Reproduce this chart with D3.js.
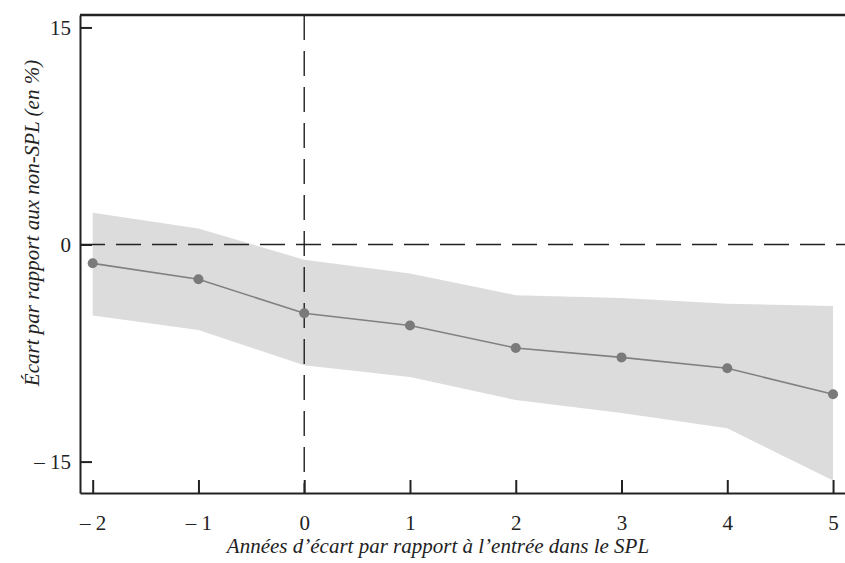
<!DOCTYPE html>
<html>
<head>
<meta charset="utf-8">
<script src="https://cdn.jsdelivr.net/npm/d3@7"></script>
</head>
<body style="margin:0; background:#fff;">
<div id="chart"></div>
<script>
// Years relative to entry, point estimates and confidence band
var years = [-2, -1, 0, 1, 2, 3, 4, 5];
var estimate = [-1.3, -2.4, -4.75, -5.6, -7.15, -7.8, -8.55, -10.35];
var upperBound = [2.2, 1.1, -1.05, -2.0, -3.5, -3.7, -4.1, -4.25];
var lowerBound = [-4.9, -5.9, -8.35, -9.15, -10.75, -11.65, -12.7, -16.3];
var yTicks = [-15, 0, 15];
var xTitle = "Années d’écart par rapport à l’entrée dans le SPL";
var yTitle = "Écart par rapport aux non-SPL (en %)";

var tickStyle = "font-family:'Liberation Serif';font-size:21px;fill:#222";
var titleStyle = "font-family:'Liberation Serif';font-size:21px;font-style:italic;fill:#222";

var width = 845, height = 563;
var margin = {top: 15, right: 0, bottom: 70, left: 80};
var innerW = width - margin.left - margin.right,
	innerH = height - margin.top - margin.bottom;

var svg = d3.select("#chart")
	.append("svg")
	.attr("width", width)
	.attr("height", height)
	.style("display", "block");

var g = svg.append("g")
	.attr("transform", "translate(" + margin.left + "," + margin.top + ")");

var x = d3.scaleLinear()
	.domain([-2.12, 5.113])
	.range([0, innerW]);

var y = d3.scaleLinear()
	.domain([-17.17, 15.86])
	.range([innerH, 0]);

//Minus sign with a space like the original
function fmt(d) {
	return d < 0 ? "\u2013 " + Math.abs(d) : "" + d;
}

var rows = years.map(function(d, i) {
	return {year: d, est: estimate[i], lo: lowerBound[i], hi: upperBound[i]};
});

//Confidence band
var area = d3.area()
	.x(function(d) { return x(d.year); })
	.y0(function(d) { return y(d.lo); })
	.y1(function(d) { return y(d.hi); });

g.append("path")
	.datum(rows)
	.attr("fill", "#dcdcdc")
	.attr("d", area);

//Dashed reference lines
g.append("line")
	.attr("x1", 0).attr("x2", innerW)
	.attr("y1", y(0)).attr("y2", y(0))
	.attr("stroke", "#222")
	.attr("stroke-width", 1.4)
	.attr("stroke-dasharray", "25,11");

g.append("line")
	.attr("x1", x(0)).attr("x2", x(0))
	.attr("y1", 0).attr("y2", innerH)
	.attr("stroke", "#222")
	.attr("stroke-width", 1.4)
	.attr("stroke-dasharray", "25,11");

//Estimate line and dots
var line = d3.line()
	.x(function(d) { return x(d.year); })
	.y(function(d) { return y(d.est); });

g.append("path")
	.datum(rows)
	.attr("fill", "none")
	.attr("stroke", "#808080")
	.attr("stroke-width", 1.6)
	.attr("d", line);

g.selectAll(".dot")
	.data(rows)
	.enter()
	.append("circle")
	.attr("class", "dot")
	.attr("cx", function(d) { return x(d.year); })
	.attr("cy", function(d) { return y(d.est); })
	.attr("r", 5)
	.attr("fill", "#7a7a7a");

//Axes with inward ticks
var xAxis = g.append("g")
	.attr("transform", "translate(0," + innerH + ")")
	.call(d3.axisBottom(x).tickValues(years).tickSizeInner(-13).tickSizeOuter(0).tickFormat(fmt).tickPadding(22));

var yAxis = g.append("g")
	.call(d3.axisLeft(y).tickValues(yTicks).tickSizeInner(-12).tickSizeOuter(0).tickFormat(fmt).tickPadding(9));

[xAxis, yAxis].forEach(function(ax) {
	ax.attr("font-family", null).attr("font-size", null);
	ax.selectAll(".domain").attr("stroke", "#222").attr("stroke-width", 2);
	ax.selectAll(".tick line").attr("stroke", "#222").attr("stroke-width", 2);
	ax.selectAll(".tick text").attr("fill", null).attr("style", tickStyle);
});

//Top frame line
g.append("line")
	.attr("x1", 0).attr("x2", innerW)
	.attr("y1", 0).attr("y2", 0)
	.attr("stroke", "#222")
	.attr("stroke-width", 2.5);

//Axis titles
svg.append("text")
	.attr("x", 438)
	.attr("y", 553)
	.attr("text-anchor", "middle")
	.attr("style", titleStyle)
	.text(xTitle);

svg.append("text")
	.attr("transform", "translate(39," + 223 + ") rotate(-90)")
	.attr("text-anchor", "middle")
	.attr("style", titleStyle)
	.text(yTitle);
</script>
</body>
</html>
